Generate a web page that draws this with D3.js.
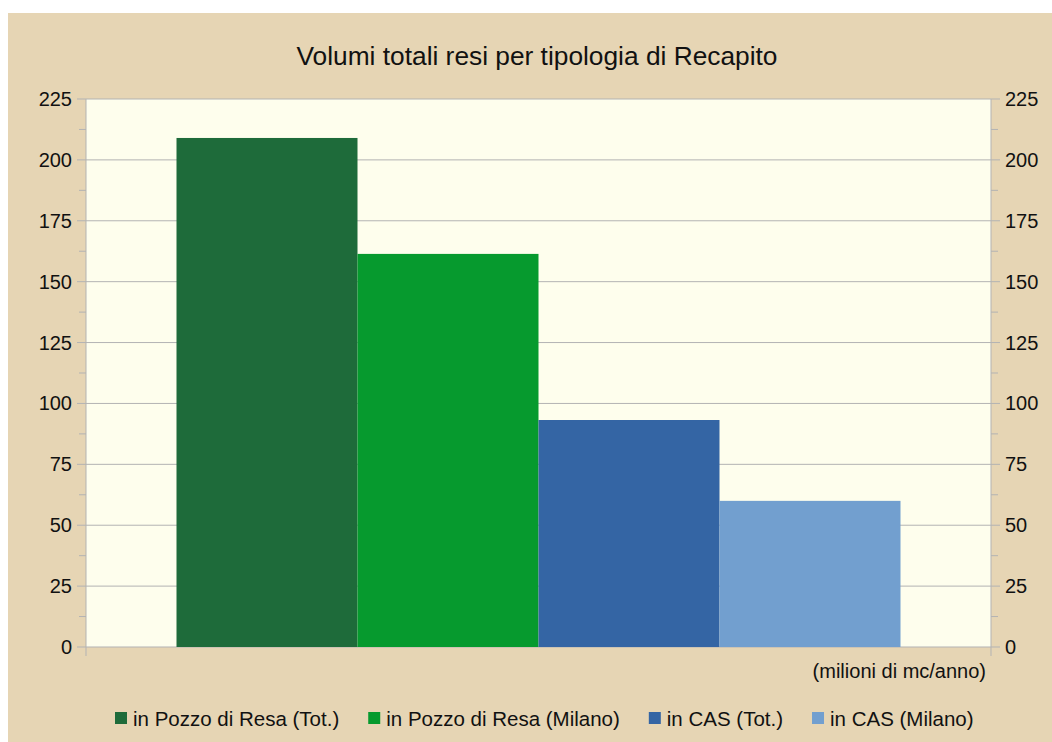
<!DOCTYPE html>
<html>
<head>
<meta charset="utf-8">
<script src="https://cdn.jsdelivr.net/npm/d3@7"></script>
<style>
	html, body { margin: 0; padding: 0; background: #fff; }
	svg text { font-family: "Liberation Sans", Arial, sans-serif; fill: #111; }
</style>
</head>
<body>
<div id="chart"></div>
<script>
let series	= ['in Pozzo di Resa (Tot.)', 'in Pozzo di Resa (Milano)', 'in CAS (Tot.)', 'in CAS (Milano)'];
let values	= [209, 161.4, 93.2, 60];
let colors	= ['#1e6b3a', '#069a2e', '#3465a4', '#729fcf'];
let ticks	= [0, 25, 50, 75, 100, 125, 150, 175, 200, 225];

let canvasWidth		= 1052;
let canvasHeight	= 742;

let plot	= { left: 86, top: 99, right: 991, bottom: 647 };

let svg = d3.select('#chart').append('svg')
	.attr('width', canvasWidth)
	.attr('height', canvasHeight);

svg.append('rect')
	.attr('x', 8).attr('y', 13)
	.attr('width', canvasWidth - 8).attr('height', canvasHeight - 13)
	.attr('fill', '#e6d5b4');

svg.append('rect')
	.attr('x', plot.left).attr('y', plot.top)
	.attr('width', plot.right - plot.left).attr('height', plot.bottom - plot.top)
	.attr('fill', '#fefeed');

let y = d3.scaleLinear().domain([0, 225]).range([plot.bottom, plot.top]);

// bars occupy the middle 80% of the single category
let x = d3.scaleBand().domain(series)
	.range([plot.left + (plot.right - plot.left) * 0.1, plot.right - (plot.right - plot.left) * 0.1]);

// gridlines
svg.append('g').selectAll('line').data(ticks).enter().append('line')
	.attr('x1', plot.left).attr('x2', plot.right)
	.attr('y1', d => y(d)).attr('y2', d => y(d))
	.attr('stroke', '#b3b3b3').attr('stroke-width', 1);

svg.append('g').selectAll('rect').data(series).enter().append('rect')
	.attr('x', d => x(d))
	.attr('width', x.bandwidth())
	.attr('y', (d, i) => y(values[i]))
	.attr('height', (d, i) => y(0) - y(values[i]))
	.attr('fill', (d, i) => colors[i]);

let minor = d3.range(12.5, 225, 25);

function drawAxis(xPos, dir) {
	let g = svg.append('g');
	g.append('line')
		.attr('x1', xPos).attr('x2', xPos)
		.attr('y1', plot.top).attr('y2', plot.bottom + 9)
		.attr('stroke', '#b3b3b3');
	g.selectAll('line.major').data(ticks).enter().append('line')
		.attr('class', 'major')
		.attr('x1', xPos).attr('x2', xPos + dir * 9)
		.attr('y1', d => y(d)).attr('y2', d => y(d))
		.attr('stroke', '#b3b3b3');
	g.selectAll('line.minor').data(minor).enter().append('line')
		.attr('class', 'minor')
		.attr('x1', xPos).attr('x2', xPos + dir * 7)
		.attr('y1', d => y(d)).attr('y2', d => y(d))
		.attr('stroke', '#b3b3b3');
	g.selectAll('text').data(ticks).enter().append('text')
		.attr('x', xPos + dir * 14)
		.attr('y', d => y(d))
		.attr('dy', '0.35em')
		.attr('text-anchor', dir < 0 ? 'end' : 'start')
		.style('font-size', '20px')
		.text(d => d);
}

drawAxis(plot.left, -1);
drawAxis(plot.right, 1);

svg.append('text')
	.attr('x', 537).attr('y', 65)
	.attr('text-anchor', 'middle')
	.style('font-size', '26.3px')
	.text('Volumi totali resi per tipologia di Recapito');

svg.append('text')
	.attr('x', 986).attr('y', 678)
	.attr('text-anchor', 'end')
	.style('font-size', '20px')
	.text('(milioni di mc/anno)');

// legend
let legend = svg.append('g');
let lx = 115;
series.forEach((s, i) => {
	legend.append('rect')
		.attr('x', lx).attr('y', 712)
		.attr('width', 12).attr('height', 12)
		.attr('fill', colors[i]);
	let t = legend.append('text')
		.attr('x', lx + 18).attr('y', 726)
		.style('font-size', '20.5px')
		.text(s);
	lx += 18 + t.node().getComputedTextLength() + 29;
});
</script>
</body>
</html>
